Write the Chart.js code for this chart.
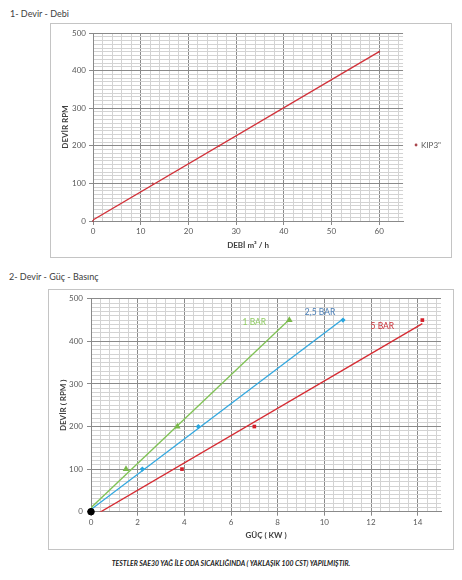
<!DOCTYPE html>
<html>
<head>
<meta charset="utf-8">
<script src="https://cdn.jsdelivr.net/npm/chart.js@4.4.0/dist/chart.umd.min.js"></script>
<style>
  html, body { margin: 0; padding: 0; background: #fff; }
  body { width: 462px; height: 580px; position: relative; overflow: hidden; font-family: Lato, "Open Sans", sans-serif; }
  .caption { position: absolute; font-size: 9px; color: #404040; white-space: nowrap; }
  .frame { position: absolute; border: 1px solid #c4c4c4; box-sizing: border-box; }
  .frame > div { position: relative; width: 100%; height: 100%; }
  .note { position: absolute; left: 0; width: 462px; top: 559px; text-align: center; font-size: 6.9px; font-weight: bold; font-style: italic; color: #1a1a1a; white-space: nowrap; }
</style>
</head>
<body>
<div class="caption" style="left:10px; top:8px;">1- Devir - Debi</div>
<div class="frame" style="left:50px; top:23px; width:402px; height:235px;"><div><canvas id="debiChart"></canvas></div></div>

<div class="caption" style="left:9px; top:271px;">2- Devir - Güç - Basınç</div>
<div class="frame" style="left:48px; top:289px; width:406px; height:261px;"><div><canvas id="gucChart"></canvas></div></div>

<div class="note">TESTLER SAE30 YAĞ İLE ODA SICAKLIĞINDA ( YAKLAŞIK 100 CST) YAPILMIŞTIR.</div>

<script>
// 1- Devir - Debi
const DEBI = [0, 12.5, 26.5, 60];
const DEBI_DEVIR = [0, 100, 200, 450];
const DEBI_SERIES = 'KIP3"';
const DEBI_X_LABELS = [0, 10, 20, 30, 40, 50, 60];
const DEBI_Y_LABELS = [0, 100, 200, 300, 400, 500];

// 2- Devir - Güç - Basınç
const ORIGIN_GUC = [0];
const ORIGIN_DEVIR = [0];
const GUC_1BAR = [1.5, 3.7, 8.5];
const GUC_25BAR = [2.2, 4.6, 10.8];
const GUC_5BAR = [3.9, 7.0, 14.2];
const GUC_DEVIR = [100, 200, 450];
const GUC_SERIES = ['1 BAR', '2,5 BAR', '5 BAR'];
const GUC_X_LABELS = [0, 2, 4, 6, 8, 10, 12, 14];
const GUC_Y_LABELS = [0, 100, 200, 300, 400, 500];

const FONT = 'Lato, "Open Sans", sans-serif';
const TICK_COLOR = '#595959';
const GRID_MAJOR = '#8a8a8a';
const GRID_MINOR = '#d3d3d3';

function isLabel(list, v) {
  return list.some(l => Math.abs(l - v) < 1e-6);
}

function gridColor(list) {
  return ctx => (ctx.tick && isLabel(list, ctx.tick.value)) ? GRID_MAJOR : GRID_MINOR;
}

function tickMarkColor(list) {
  return ctx => (ctx.tick && isLabel(list, ctx.tick.value)) ? GRID_MAJOR : 'rgba(0,0,0,0)';
}

function points(xs, ys) {
  return xs.map((x, i) => ({ x: x, y: ys[i] }));
}

// least squares line like the Excel trendline
function trendline(xs, ys) {
  const n = xs.length;
  const mx = xs.reduce((a, b) => a + b, 0) / n;
  const my = ys.reduce((a, b) => a + b, 0) / n;
  let sxy = 0, sxx = 0;
  xs.forEach((x, i) => {
    sxy += (x - mx) * (ys[i] - my);
    sxx += (x - mx) * (x - mx);
  });
  const slope = sxy / sxx;
  const intercept = my - slope * mx;
  const xEnd = Math.max(...xs);
  return [{ x: 0, y: intercept }, { x: xEnd, y: intercept + slope * xEnd }];
}

function axis(opts) {
  return {
    type: 'linear',
    min: 0,
    max: opts.max,
    ticks: {
      stepSize: opts.step,
      autoSkip: false,
      includeBounds: false,
      maxRotation: 0,
      padding: opts.tickPadding,
      color: TICK_COLOR,
      font: { family: FONT, size: 8 },
      callback: v => isLabel(opts.labels, v) ? v : ''
    },
    grid: {
      color: gridColor(opts.labels),
      tickColor: tickMarkColor(opts.labels),
      tickLength: 4,
      lineWidth: 1
    },
    border: { color: GRID_MAJOR },
    title: {
      display: true,
      text: opts.title,
      color: '#404040',
      font: { family: FONT, size: 8, weight: 'bold' },
      padding: opts.titlePadding
    },
    afterFit: opts.fit
  };
}

// 1- Devir - Debi
new Chart(document.getElementById('debiChart'), {
  type: 'scatter',
  data: {
    datasets: [
      {
        label: DEBI_SERIES,
        data: points(DEBI, DEBI_DEVIR),
        pointStyle: 'circle',
        pointRadius: 1,
        pointBackgroundColor: '#a8464c',
        pointBorderColor: '#a8464c',
        pointBorderWidth: 0,
        showLine: false,
        clip: false,
        order: 2
      },
      {
        label: 'trend',
        data: trendline(DEBI, DEBI_DEVIR),
        showLine: true,
        borderColor: '#d2323a',
        borderWidth: 1.3,
        pointRadius: 0,
        order: 1
      }
    ]
  },
  options: {
    responsive: true,
    maintainAspectRatio: false,
    animation: false,
    layout: { padding: { top: 9, right: 0, bottom: 0, left: 0 } },
    scales: {
      x: axis({ max: 65, step: 2, labels: DEBI_X_LABELS, title: 'DEBİ m³ / h', tickPadding: 2,
        titlePadding: { top: 0, bottom: 7 }, fit: s => { s.height = 36; } }),
      y: axis({ max: 500, step: 10, labels: DEBI_Y_LABELS, title: 'DEVİR RPM', tickPadding: 3,
        titlePadding: { top: 10, bottom: 0 }, fit: s => { s.width = 42; } })
    },
    plugins: {
      legend: {
        position: 'right',
        labels: {
          filter: item => item.datasetIndex === 0,
          usePointStyle: true,
          boxWidth: 2,
          boxHeight: 2,
          padding: 12,
          color: TICK_COLOR,
          font: { family: FONT, size: 8 }
        }
      },
      tooltip: { enabled: false }
    }
  }
});

// data labels next to the last point of each pressure series
const seriesLabels = {
  id: 'seriesLabels',
  afterDatasetsDraw(chart, args, opts) {
    const ctx = chart.ctx;
    opts.items.forEach(item => {
      const meta = chart.getDatasetMeta(item.dataset);
      const last = meta.data[meta.data.length - 1];
      ctx.save();
      ctx.font = '8.5px ' + FONT;
      ctx.fillStyle = item.color;
      ctx.textAlign = 'center';
      ctx.textBaseline = 'middle';
      ctx.fillText(chart.data.datasets[item.dataset].label, last.x + item.dx, last.y + item.dy);
      ctx.restore();
    });
  }
};

function markerSet(label, xs, style, radius, color, order) {
  return {
    label: label,
    data: points(xs, GUC_DEVIR),
    pointStyle: style,
    pointRadius: radius,
    pointBackgroundColor: color,
    pointBorderColor: color,
    pointBorderWidth: 0,
    showLine: false,
    clip: false,
    order: order
  };
}

function trendSet(xs, color) {
  return {
    label: 'trend',
    data: trendline(ORIGIN_GUC.concat(xs), ORIGIN_DEVIR.concat(GUC_DEVIR)),
    showLine: true,
    borderColor: color,
    borderWidth: 1.3,
    pointRadius: 0,
    clip: 0,
    order: 5
  };
}

new Chart(document.getElementById('gucChart'), {
  type: 'scatter',
  data: {
    datasets: [
      markerSet(GUC_SERIES[0], GUC_1BAR, 'triangle', 3.8, '#79b84a', 3),
      markerSet(GUC_SERIES[1], GUC_25BAR, 'rectRot', 2.6, '#2aa6de', 3),
      markerSet(GUC_SERIES[2], GUC_5BAR, 'rect', 2.6, '#d4202a', 3),
      trendSet(GUC_1BAR, '#80c256'),
      trendSet(GUC_25BAR, '#31a7df'),
      trendSet(GUC_5BAR, '#d62b32'),
      {
        label: 'origin',
        data: points(ORIGIN_GUC, ORIGIN_DEVIR),
        pointStyle: 'circle',
        pointRadius: 3.3,
        pointBackgroundColor: '#000',
        pointBorderColor: '#000',
        showLine: false,
        clip: false,
        order: 0
      }
    ]
  },
  options: {
    responsive: true,
    maintainAspectRatio: false,
    animation: false,
    layout: { padding: { top: 7.7, right: 12, bottom: 0, left: 0 } },
    scales: {
      x: axis({ max: 15, step: 0.4, labels: GUC_X_LABELS, title: 'GÜÇ ( KW )', tickPadding: 2,
        titlePadding: { top: 0, bottom: 9 }, fit: s => { s.height = 37.3; } }),
      y: axis({ max: 500, step: 10, labels: GUC_Y_LABELS, title: 'DEVİR ( RPM )', tickPadding: 4,
        titlePadding: { top: 10, bottom: 0 }, fit: s => { s.width = 42; } })
    },
    plugins: {
      legend: { display: false },
      tooltip: { enabled: false },
      seriesLabels: {
        items: [
          { dataset: 0, dx: -35, dy: 2, color: '#8fcb62' },
          { dataset: 1, dx: -23, dy: -8, color: '#4a7fb8' },
          { dataset: 2, dx: -40, dy: 6, color: '#cc3038' }
        ]
      }
    }
  },
  plugins: [seriesLabels]
});
</script>
</body>
</html>
